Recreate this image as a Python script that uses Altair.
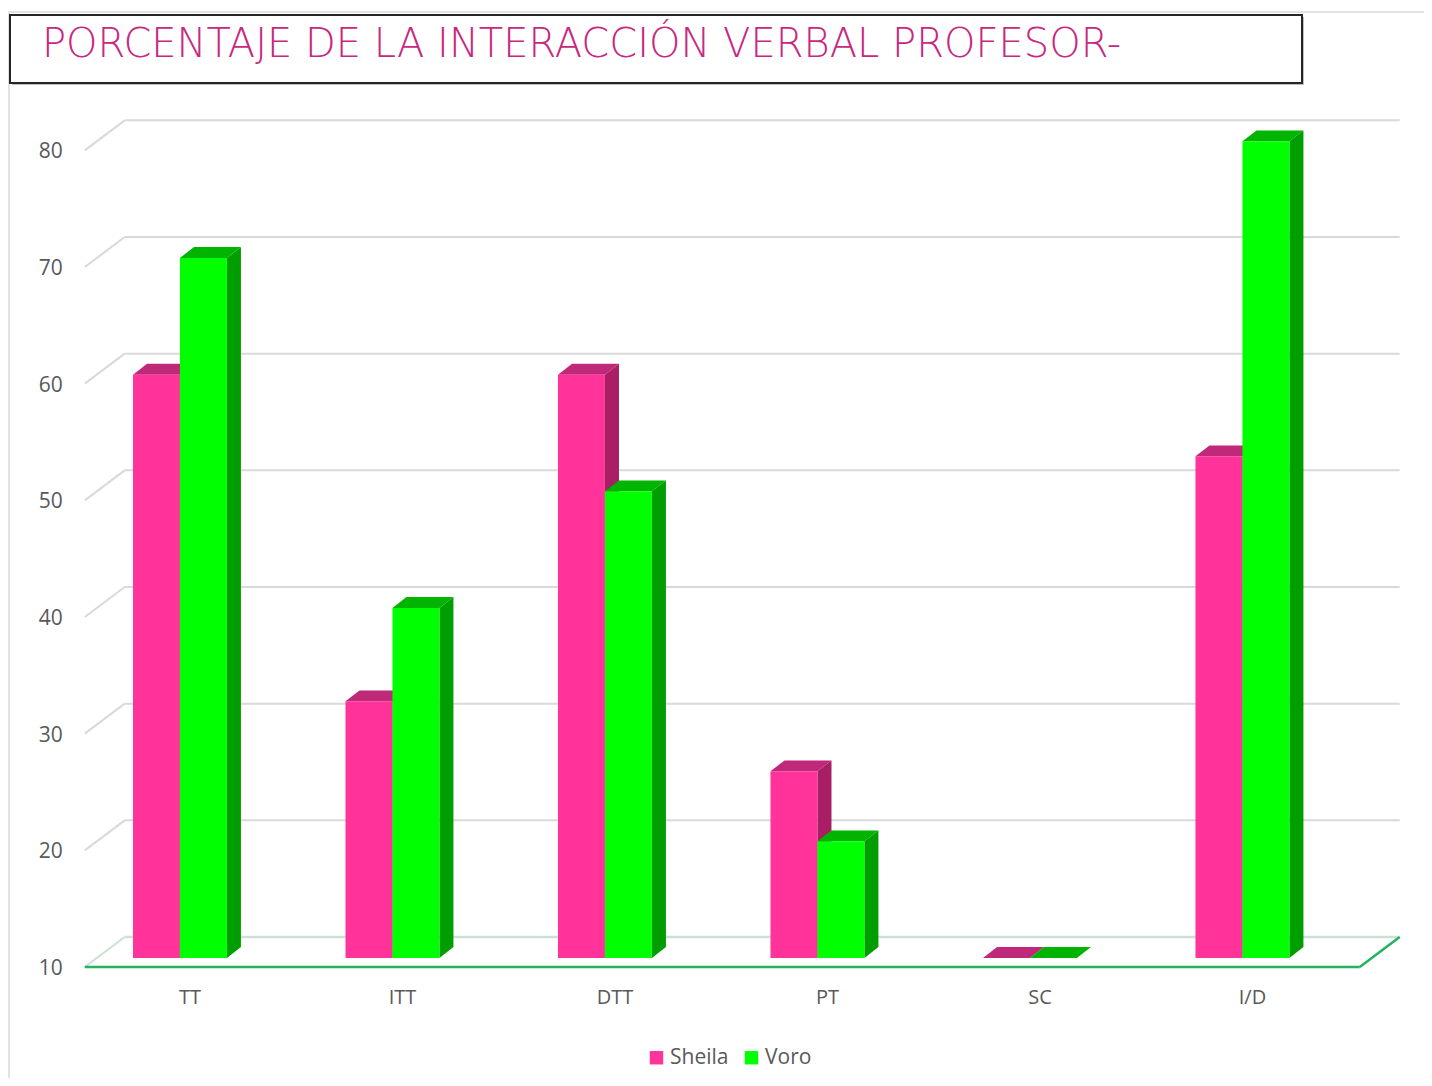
import altair as alt
import pandas as pd

# ---------------- data ----------------
categories = ["TT", "ITT", "DTT", "PT", "SC", "I/D"]
sheila = [60, 32, 60, 26, 10, 53]
voro = [70, 40, 50, 20, 10, 80]
series = ["Sheila", "Voro"]
y_ticks = [10, 20, 30, 40, 50, 60, 70, 80]

front_colors = ["#FF3399", "#00FF00"]
side_colors = ["#A81F66", "#009E00"]
top_colors = ["#C0287A", "#00B400"]

title_text = "PORCENTAJE DE LA INTERACCIÓN VERBAL PROFESOR-"

# ---------------- 3D styling constants (in scale units) ----------------
BASE = 10
BAR_LIFT = 0.77        # bars sit a little behind the front edge of the floor
BAR_W = 0.221          # width of one bar (category step = 1)
PAIR_SHIFT = -0.052    # pair centre relative to category centre
BAR_DX, BAR_DV = 0.066, 0.94   # depth of a bar
WALL_DX, WALL_DV = 0.188, 2.571  # depth of the floor / back wall
X_DOMAIN = [-0.8612, 5.8024]
Y_DOMAIN = [0.486, 92.2]
W, H = 1416, 1070

xs = alt.Scale(domain=X_DOMAIN, nice=False, zero=False)
ys = alt.Scale(domain=Y_DOMAIN, nice=False, zero=False)
X = lambda f: alt.X(f, type="quantitative", scale=xs, axis=None)
Y = lambda f: alt.Y(f, type="quantitative", scale=ys, axis=None)

n = len(categories)
left_front, right_front = -0.5, n - 0.5

# ---------------- grid ----------------
grid_back = pd.DataFrame({
    "x": [left_front + WALL_DX] * len(y_ticks),
    "x2": [right_front + WALL_DX] * len(y_ticks),
    "y": [v + WALL_DV for v in y_ticks],
})
grid_diag = pd.DataFrame({
    "x": [left_front] * len(y_ticks),
    "x2": [left_front + WALL_DX] * len(y_ticks),
    "y": list(y_ticks),
    "y2": [v + WALL_DV for v in y_ticks],
})
back_lines = alt.Chart(grid_back[grid_back.y > BASE + WALL_DV]).mark_rule(
    color="#d9d9d9", strokeWidth=2).encode(x=X("x"), x2="x2", y=Y("y"))
diag_lines = alt.Chart(grid_diag[grid_diag.y > BASE]).mark_rule(
    color="#d9d9d9", strokeWidth=2).encode(x=X("x"), x2="x2", y=Y("y"), y2="y2")

floor_back = alt.Chart(pd.DataFrame({
    "x": [left_front + WALL_DX], "x2": [right_front + WALL_DX], "y": [BASE + WALL_DV]
})).mark_rule(color="#c9e2d3", strokeWidth=2.5).encode(x=X("x"), x2="x2", y=Y("y"))
floor_left = alt.Chart(pd.DataFrame({
    "x": [left_front], "x2": [left_front + WALL_DX], "y": [BASE], "y2": [BASE + WALL_DV]
})).mark_rule(color="#c9e2d3", strokeWidth=2).encode(x=X("x"), x2="x2", y=Y("y"), y2="y2")
floor_front = alt.Chart(pd.DataFrame({
    "x": [left_front, right_front], "x2": [right_front, right_front + WALL_DX],
    "y": [BASE, BASE], "y2": [BASE, BASE + WALL_DV]
})).mark_rule(color="#22B45E", strokeWidth=2.5).encode(x=X("x"), x2="x2", y=Y("y"), y2="y2")

# ---------------- bars ----------------
def bar_frames(si, values):
    fronts, sides, tops = [], [], []
    for i, (c, v) in enumerate(zip(categories, values)):
        centre = i + PAIR_SHIFT
        xl = centre - BAR_W if si == 0 else centre
        xr = xl + BAR_W
        b = BASE + BAR_LIFT
        t = v + BAR_LIFT
        fid = f"{series[si]}-{c}"
        fronts.append({"cat": c, "serie": series[si], "value": v,
                       "x": xl, "x2": xr, "y": b, "y2": t})
        sides += [
            {"id": fid, "x": xr, "y": b, "y2": t, "fill": side_colors[si]},
            {"id": fid, "x": xr + BAR_DX, "y": b + BAR_DV, "y2": t + BAR_DV, "fill": side_colors[si]},
        ]
        tops += [
            {"id": fid, "y": t, "x": xl, "x2": xr, "fill": top_colors[si]},
            {"id": fid, "y": t + BAR_DV, "x": xl + BAR_DX, "x2": xr + BAR_DX, "fill": top_colors[si]},
        ]
    return pd.DataFrame(fronts), pd.DataFrame(sides), pd.DataFrame(tops)

bar_layers = []
for si, vals in enumerate([sheila, voro]):
    fr, sd, tp = bar_frames(si, vals)
    side = alt.Chart(sd).mark_area(orient="vertical").encode(
        x=X("x"), y=Y("y"), y2="y2", detail="id:N",
        color=alt.Color("fill:N", scale=None))
    top = alt.Chart(tp).mark_area(orient="horizontal").encode(
        y=Y("y"), x=X("x"), x2="x2", detail="id:N",
        color=alt.Color("fill:N", scale=None))
    front = alt.Chart(fr).mark_rect().encode(
        x=X("x"), x2="x2", y=Y("y"), y2="y2",
        color=alt.Color("serie:N",
                        scale=alt.Scale(domain=series, range=front_colors),
                        legend=alt.Legend(
                            title=None, orient="none", direction="horizontal",
                            legendX=638, legendY=1039, padding=0,
                            symbolType="square", symbolSize=180,
                            symbolStrokeWidth=0, labelFontSize=21,
                            labelFont="Open Sans", labelColor="#595959",
                            labelOffset=3, columnPadding=12)),
        tooltip=["cat:N", "serie:N", "value:Q"])
    bar_layers += [side, top, front]

# ---------------- labels ----------------
ylab = alt.Chart(pd.DataFrame({"v": y_ticks, "x": [left_front] * len(y_ticks)})).mark_text(
    align="right", baseline="middle", dx=-22, dy=2, fontSize=21, font="Open Sans",
    color="#595959").encode(x=X("x"), y=Y("v"), text="v:Q")
xlab = alt.Chart(pd.DataFrame({"cat": categories, "x": list(range(n)),
                               "y": [BASE] * n})).mark_text(
    align="center", baseline="middle", dx=-1, dy=31, fontSize=20, font="Open Sans",
    color="#595959").encode(x=X("x"), y=Y("y"), text="cat:N")

# ---------------- frame & title box ----------------
frame = alt.Chart(pd.DataFrame({"a": [0]})).mark_rect(
    fill="white", stroke="#d9d9d9", strokeWidth=1.5).encode(
    x=alt.value(1), x2=alt.value(1430), y=alt.value(4), y2=alt.value(1085))
title_shadow = alt.Chart(pd.DataFrame({"a": [0]})).mark_rect(
    fill="#bfbfbf").encode(
    x=alt.value(4), x2=alt.value(1296), y=alt.value(9), y2=alt.value(77))
title_box = alt.Chart(pd.DataFrame({"a": [0]})).mark_rect(
    fill="white", stroke="#262626", strokeWidth=2).encode(
    x=alt.value(2), x2=alt.value(1294), y=alt.value(7), y2=alt.value(75))
title = alt.Chart(pd.DataFrame({"t": [title_text]})).mark_text(
    align="left", baseline="middle", fontSize=40, font="DejaVu Sans", fontWeight=200,
    color="#C8287F").encode(x=alt.value(34), y=alt.value(37), text="t:N")

chart = alt.layer(
    frame, back_lines, diag_lines, floor_back, floor_left,
    *bar_layers, floor_front, ylab, xlab, title_shadow, title_box, title
).properties(
    width=W, height=H, autosize=alt.AutoSizeParams(type="none"),
    padding={"left": 0, "top": 0, "right": 0, "bottom": 0}
).configure_view(stroke=None)

chart.save("out.html", embed_options={"renderer": "svg", "actions": False})
